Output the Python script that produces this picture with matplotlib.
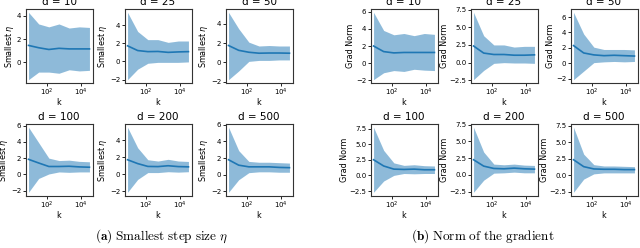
import matplotlib
matplotlib.use('Agg')
import matplotlib.pyplot as plt

plt.rcParams['mathtext.fontset'] = 'dejavusans'

# iteration counts (x axis, log scale)
k = [8, 32, 128, 512, 2048, 8192, 32768]
dims = [10, 25, 50, 100, 200, 500]

# (a) smallest step size eta: mean, lower and upper edge of band
eta_mean = [
    [1.45, 1.25, 1.10, 1.20, 1.15, 1.15, 1.15],
    [1.72, 1.20, 1.08, 1.10, 1.00, 1.05, 1.08],
    [1.75, 1.25, 1.05, 0.95, 0.97, 0.97, 0.95],
    [1.85, 1.40, 0.97, 0.97, 1.00, 0.92, 0.88],
    [1.70, 1.25, 0.92, 0.90, 1.00, 0.90, 0.87],
    [1.80, 1.15, 0.95, 0.95, 0.95, 0.88, 0.85],
]
eta_lo = [
    [-1.50, -0.85, -0.85, -0.95, -0.65, -0.75, -0.70],
    [-2.00, -0.85, -0.20, -0.10, -0.10, -0.10, -0.05],
    [-1.80, -0.90, 0.10, 0.20, 0.20, 0.25, 0.25],
    [-2.20, -0.50, 0.05, 0.30, 0.25, 0.30, 0.30],
    [-2.10, -0.60, 0.20, 0.20, 0.30, 0.25, 0.30],
    [-2.10, -0.60, 0.25, 0.35, 0.35, 0.30, 0.30],
]
eta_hi = [
    [4.30, 3.30, 3.05, 3.30, 2.95, 3.05, 3.00],
    [5.40, 3.30, 2.40, 2.40, 2.10, 2.25, 2.25],
    [5.20, 3.50, 2.10, 1.70, 1.75, 1.70, 1.70],
    [5.80, 3.90, 2.00, 1.70, 1.75, 1.60, 1.55],
    [5.50, 3.10, 1.70, 1.55, 1.75, 1.55, 1.50],
    [5.70, 2.90, 1.60, 1.50, 1.50, 1.45, 1.40],
]
eta_yticks = [
    [0, 2, 4],
    [-2, 0, 2, 4],
    [-2, 0, 2, 4],
    [-2, 0, 2, 4, 6],
    [-2, 0, 2, 4],
    [-2, 0, 2, 4, 6],
]

# (b) norm of the gradient
grad_mean = [
    [2.00, 1.35, 1.20, 1.25, 1.25, 1.25, 1.25],
    [2.35, 1.35, 1.15, 1.15, 1.05, 1.05, 1.10],
    [2.30, 1.35, 1.10, 1.00, 1.05, 1.00, 0.95],
    [2.50, 1.50, 1.00, 0.95, 1.00, 0.90, 0.90],
    [2.25, 1.30, 0.95, 0.90, 1.00, 0.90, 0.85],
    [2.35, 1.30, 0.95, 0.90, 0.90, 0.85, 0.85],
]
grad_lo = [
    [-1.90, -1.10, -0.85, -0.95, -0.70, -0.80, -0.85],
    [-2.40, -1.10, -0.10, 0.00, -0.05, -0.05, -0.10],
    [-2.10, -1.00, 0.10, 0.20, 0.25, 0.20, 0.25],
    [-2.70, -0.90, 0.00, 0.30, 0.25, 0.30, 0.30],
    [-2.60, -0.80, 0.25, 0.30, 0.40, 0.30, 0.30],
    [-2.60, -0.60, 0.20, 0.35, 0.35, 0.35, 0.35],
]
grad_hi = [
    [5.90, 3.80, 3.30, 3.45, 3.20, 3.45, 3.35],
    [7.10, 3.80, 2.50, 2.50, 2.20, 2.30, 2.30],
    [6.60, 3.80, 2.10, 1.80, 1.80, 1.80, 1.75],
    [7.70, 4.00, 2.00, 1.60, 1.70, 1.55, 1.50],
    [7.10, 3.40, 1.60, 1.50, 1.60, 1.45, 1.40],
    [7.30, 3.20, 1.60, 1.40, 1.40, 1.35, 1.30],
]
grad_yticks = [
    [-2, 0, 2, 4, 6],
    [-2.5, 0, 2.5, 5, 7.5],
    [-2, 0, 2, 4, 6],
    [-2.5, 0, 2.5, 5, 7.5],
    [-2.5, 0, 2.5, 5, 7.5],
    [-2.5, 0, 2.5, 5, 7.5],
]

W, H = 640, 248
fig = plt.figure(figsize=(W / 100, H / 100), dpi=100)

# frame left edges in pixels, and (top, bottom) edges of each row
lefts_a = [25.5, 124.5, 225.5]
lefts_b = [370.5, 470.5, 570.5]
rows = [(9, 83), (124, 195.5)]
aw = 67


def fmt(ticks):
    if all(float(t).is_integer() for t in ticks):
        labels = [f'{t:g}' for t in ticks]
    else:
        labels = [f'{t:.1f}' for t in ticks]
    return [s.replace('-', '\u2212') for s in labels]


def panel(x0, row, mean, lo, hi, yticks, ylabel, d):
    y0, y1 = row
    ax = fig.add_axes([x0 / W, 1 - y1 / H, aw / W, (y1 - y0) / H])
    ax.fill_between(k, lo, hi, color='C0', alpha=0.5, linewidth=0)
    ax.plot(k, mean, color='C0', linewidth=1.2)
    ax.set_xscale('log')
    ax.set_xticks([1e2, 1e4])
    ax.minorticks_off()
    ax.set_yticks(yticks)
    ax.set_yticklabels(fmt(yticks))
    ax.set_title(f'd = {d}', fontsize=7.5, pad=3)
    ax.set_xlabel('k', fontsize=5.8, labelpad=0)
    ax.set_ylabel(ylabel, fontsize=5.8, labelpad=0.5)
    ax.tick_params(labelsize=5, length=2, width=0.6, pad=1)
    for s in ax.spines.values():
        s.set_linewidth(0.8)
        s.set_color('#333333')
    return ax


for i, d in enumerate(dims):
    r, c = divmod(i, 3)
    panel(lefts_a[c], rows[r], eta_mean[i], eta_lo[i], eta_hi[i],
          eta_yticks[i], r'Smallest $\eta$', d)
    panel(lefts_b[c], rows[r], grad_mean[i], grad_lo[i], grad_hi[i],
          grad_yticks[i], 'Grad Norm', d)

# captions under each group
cap = dict(fontsize=9.5, ha='center', va='center', math_fontfamily='cm')
fig.text(162 / W, 1 - 236 / H,
         r'$\mathbf{(a)}\ \mathrm{Smallest\ step\ size}\ \eta$', **cap)
fig.text(483 / W, 1 - 236 / H,
         r'$\mathbf{(b)}\ \mathrm{Norm\ of\ the\ gradient}$', **cap)

fig.savefig('out.png', dpi=100)
